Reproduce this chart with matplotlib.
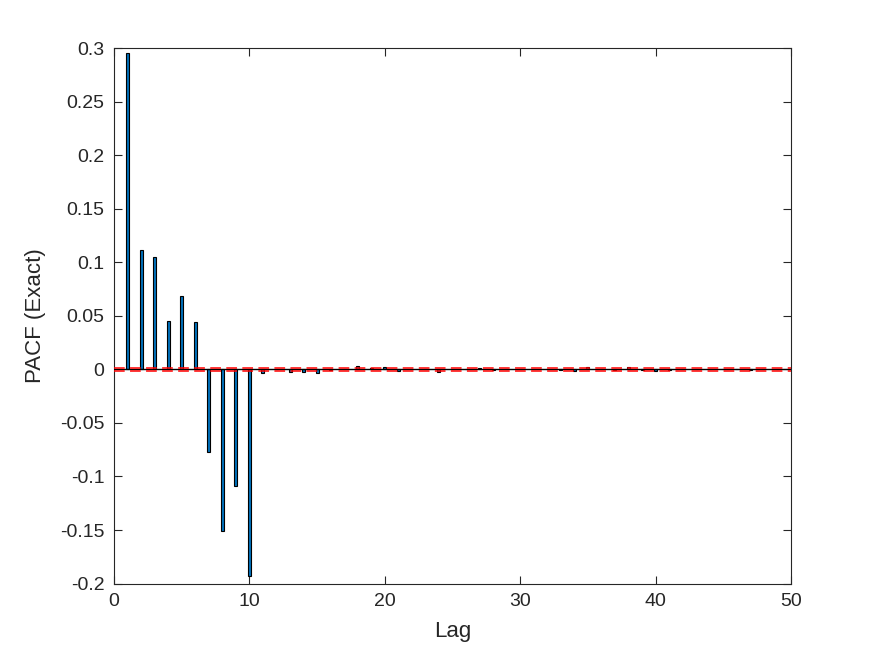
import matplotlib
matplotlib.use("Agg")
import matplotlib.pyplot as plt

# lags und partielle Autokorrelation
lags = list(range(1, 50))
pacf = [0.296, 0.112, 0.105, 0.045, 0.069, 0.044, -0.077, -0.151, -0.109, -0.193,
        -0.003, 0.0003, -0.0025, -0.0025, -0.003, -0.0005, 0.0005, 0.003, 0.0015, 0.002,
        -0.001, 0.0, 0.0005, -0.002, 0.0, 0.0, 0.001, -0.0007, 0.0003, 0.0,
        0.0, 0.0, -0.0007, -0.001, 0.002, 0.0, -0.0005, 0.002, -0.0005, -0.001,
        -0.0007, 0.0005, 0.0005, 0.0, 0.0, 0.0005, -0.0005, 0.0005, 0.0005]
bounds = [0.0013, -0.0013]

plt.rcParams['font.family'] = ['Liberation Sans', 'DejaVu Sans']

fig = plt.figure(figsize=(8.75, 6.56), dpi=100)
ax = fig.add_axes([0.1303, 0.1105, 0.7737, 0.8157])

ax.bar(lags, pacf, width=0.22, color='#0072BD', edgecolor='black', linewidth=0.8, zorder=2)
ax.axhline(0, color='black', lw=1.0, zorder=3)
for b in bounds:
    ax.axhline(b, color='red', lw=1.1, dashes=(7, 3.5), zorder=4)

ax.set_xlim(0, 50)
ax.set_ylim(-0.2, 0.3)
ax.set_xticks([0, 10, 20, 30, 40, 50])
ax.set_yticks([-0.2, -0.15, -0.1, -0.05, 0, 0.05, 0.1, 0.15, 0.2, 0.25, 0.3])
ax.set_yticklabels(['-0.2', '-0.15', '-0.1', '-0.05', '0', '0.05', '0.1', '0.15', '0.2', '0.25', '0.3'])
ax.tick_params(direction='in', length=6, width=0.8, colors='#262626', labelsize=14,
               top=True, right=True, pad=7)
for s in ax.spines.values():
    s.set_color('#262626')
    s.set_linewidth(0.8)

ax.set_xlabel('Lag', fontsize=16, color='#262626', labelpad=8)
ax.set_ylabel('PACF (Exact)', fontsize=16, color='#262626', labelpad=10)

fig.savefig('out.png', dpi=100)
